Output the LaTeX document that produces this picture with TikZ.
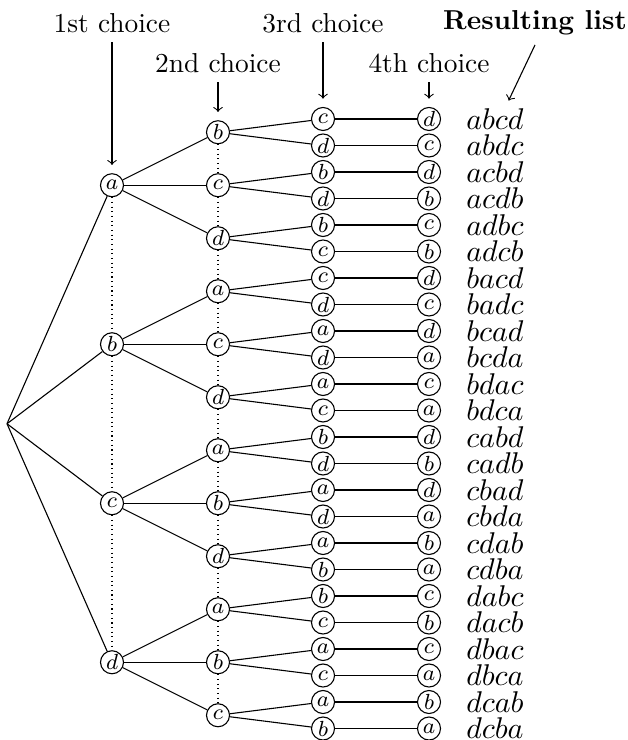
\documentclass[tikz,border=0pt]{standalone}
\usetikzlibrary{positioning}
\begin{document}
\begin{tikzpicture}[x=0.365pt,y=-0.365pt,
  choix/.style={draw,circle,fill=white,inner sep=0pt,minimum size=8.4pt,font=\fontsize{8.5}{10}\selectfont},
  liste/.style={inner sep=0pt,font=\fontsize{10.9}{13}\selectfont},
  fleche/.style={->,shorten >=3pt},
  pointille/.style={dash pattern=on 0.4pt off 1.3pt}]

\useasboundingbox (0,0) rectangle (627,740);

% Racine de l'arbre
\coordinate (racine) at (7,423.75);

% Premier choix
\foreach \l [count=\i from 0] in {a,b,c,d}
  \node[choix] (n1-\i) at (112,{185.25+159*\i}) {$\l$};

% Deuxième choix
\foreach \l [count=\j from 0] in {b,c,d,a,c,d,a,b,d,a,b,c}
  \node[choix] (n2-\j) at (218,{132.25+53*\j}) {$\l$};

% Troisième et quatrième choix, liste obtenue
\foreach \p/\q/\r/\s [count=\k from 0] in {a/b/c/d,a/b/d/c,a/c/b/d,a/c/d/b,a/d/b/c,a/d/c/b,
    b/a/c/d,b/a/d/c,b/c/a/d,b/c/d/a,b/d/a/c,b/d/c/a,
    c/a/b/d,c/a/d/b,c/b/a/d,c/b/d/a,c/d/a/b,c/d/b/a,
    d/a/b/c,d/a/c/b,d/b/a/c,d/b/c/a,d/c/a/b,d/c/b/a}{
  \node[choix] (n3-\k) at (323,{119+26.5*\k}) {$\r$};
  \node[choix] (n4-\k) at (429,{119+26.5*\k}) {$\s$};
  \node[liste,right=9pt of n4-\k] (res-\k) {$\p\q\r\s$};
}

% Branches
\foreach \i in {0,...,3}{
  \draw (racine) -- (n1-\i);
  \foreach \j in {0,1,2}{
    \pgfmathtruncatemacro\m{3*\i+\j}
    \draw (n1-\i) -- (n2-\m);
  }
}
\foreach \j in {0,...,11}{
  \pgfmathtruncatemacro\u{2*\j}
  \pgfmathtruncatemacro\v{2*\j+1}
  \draw (n2-\j) -- (n3-\u);
  \draw (n2-\j) -- (n3-\v);
}
\foreach \k in {0,...,23}
  \draw (n3-\k) -- (n4-\k);

% Pointillés
\foreach \i [count=\ii] in {0,1,2}
  \draw[pointille] (n1-\i) -- (n1-\ii);
\foreach \j [count=\jj] in {0,...,10}
  \draw[pointille] (n2-\j) -- (n2-\jj);

% Titres des colonnes
\node (t1) at (112,23) {1st choice};
\node (t2) at (218,63) {2nd choice};
\node (t3) at (323,23) {3rd choice};
\node (t4) at (429,63) {4th choice};
\node[font=\bfseries] (t5) at (535,23) {Resulting list};

% Flèches
\draw[fleche] (t1) -- (n1-0);
\draw[fleche] (t2) -- (n2-0);
\draw[fleche] (t3) -- (n3-0);
\draw[fleche] (t4) -- (n4-0);
\draw[fleche] (t5.south) -- ([xshift=3.7pt]res-0.north);

\end{tikzpicture}
\end{document}
